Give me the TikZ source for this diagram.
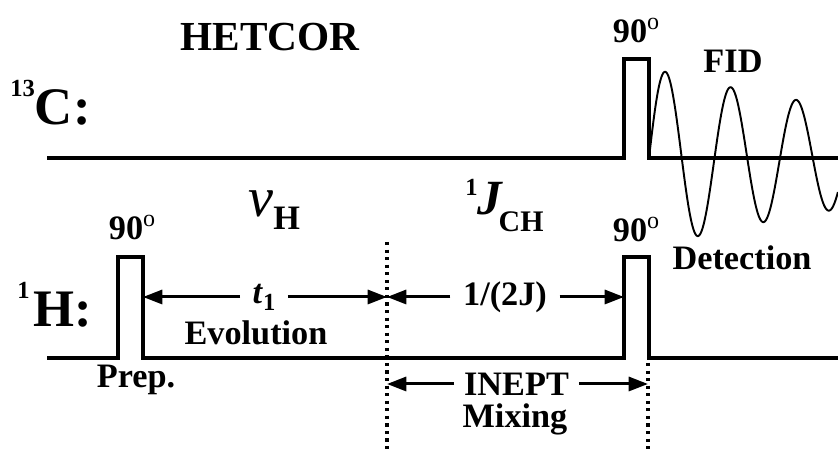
\documentclass[tikz,border=0pt]{standalone}
\usepackage{fontspec}
\setmainfont{Liberation Serif}
\usetikzlibrary{arrows.meta}
\newcommand{\fsz}[1]{\fontsize{#1}{#1}\selectfont}
\newcommand{\upiso}[2]{\raisebox{#2}{\fsz{14}#1}}

\begin{document}
\begin{tikzpicture}[
  every node/.style={font=\fsz{19.5}\bfseries,inner sep=0pt},
  title/.style={font=\fsz{23.5}\bfseries},
  chan/.style={anchor=base west,font=\fsz{30}\bfseries},
  flip/.style={anchor=base},
  seq/.style={line width=1.8pt,line join=miter},
  fid/.style={line width=1.1pt},
  marker/.style={line width=2.2pt,dash pattern=on 1.8pt off 2.5pt},
  timing/.style={-{Triangle[length=11pt,width=8pt]},line width=1.7pt},
  gap/.style={inner xsep=7pt}
]
\useasboundingbox (0,0) rectangle (16.76,9.04);

% channels
\draw[seq] (0.94,5.88) -- (12.48,5.88) |- (12.98,7.86) -- (12.98,5.88) -- (16.76,5.88);
\draw[seq] (0.94,1.88) -- (2.36,1.88) |- (2.86,3.90) -- (2.86,1.88) -- (12.48,1.88)
  |- (12.98,3.90) -- (12.98,1.88) -- (16.76,1.88);
\draw[fid] plot[domain=12.98:16.76,samples=240,smooth]
  (\x,{5.88+1.72*exp(-(\x-13.32)/6.64)*sin(360*(\x-12.98)/1.31)});

% period markers
\draw[marker] (7.74,4.20) -- (7.74,0);
\draw[marker] (12.96,1.78) -- (12.96,0);

\coordinate (prepR) at (2.86,3.10);
\coordinate (evoR) at (7.74,3.10);
\coordinate (readL) at (12.48,3.10);
\coordinate (mixL) at (7.74,1.36);
\coordinate (mixR) at (12.96,1.36);

\node[title] (hetcor) at (5.4,8.3) {HETCOR};
\node[chan] (carbon) at (0.2,6.54) {\upiso{13}{16pt}C:};
\node[chan] (proton) at (0.34,2.5) {\upiso{1}{16pt}\kern2pt H:};

\foreach \x/\y/\n in {2.65/4.24/prepA,12.73/8.18/readC,12.73/4.20/readH}
  \node[flip] (\n) at (\x,\y) {90\textsuperscript{\mdseries o}};

\node (fid) at (14.66,7.82) {FID};
\node (detect) at (14.84,3.88) {Detection};
\node (prep) at (2.72,1.44) {Prep.};
\node (evol) at (5.12,2.38) {Evolution};
\node (mixing) at (10.3,0.66) {Mixing};
\node[anchor=base west] (nuH) at (4.96,4.70)
  {{\fsz{32}\mdseries\itshape ν}\raisebox{-7.4pt}{H}};
\node[anchor=base west] (jch) at (9.3,4.74)
  {\upiso{1}{11.3pt}{\fsz{28}\itshape J}\kern-2pt\raisebox{-9.6pt}{\fsz{17}CH}};

% timing arrows
\node[gap] (t1) at (5.28,3.10) {\textit{t}\raisebox{-4pt}{\fsz{14}1}};
\draw[timing] (t1) -- (prepR);
\draw[timing] (t1) -- (evoR);
\node[gap] (half) at (10.1,3.10) {1/(2J)};
\draw[timing] (half) -- (evoR);
\draw[timing] (half) -- (readL);
\node[gap,inner xsep=5.5pt] (inept) at (10.33,1.36) {INEPT};
\draw[timing] (inept) -- (mixL);
\draw[timing] (inept) -- (mixR);
\end{tikzpicture}
\end{document}
